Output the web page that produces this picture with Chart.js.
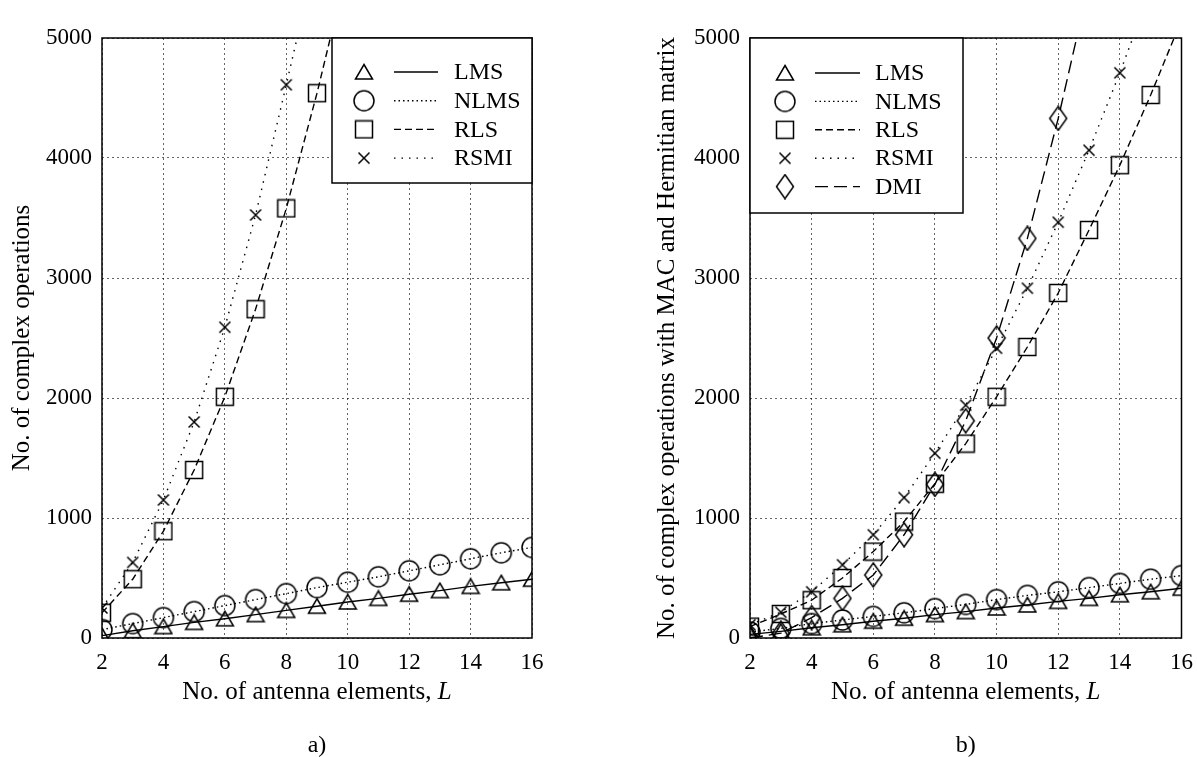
<!DOCTYPE html>
<html>
<head>
<meta charset="utf-8">
<script src="https://cdn.jsdelivr.net/npm/chart.js@4/dist/chart.umd.min.js"></script>
<style>
  html, body { margin: 0; background: #fff; overflow: hidden; width: 1197px; height: 757px; }
  #wrapA { position: absolute; left: 0; top: 0; }
  #wrapB { position: absolute; left: 640px; top: 0; }
</style>
</head>
<body>
<div id="wrapA"><canvas id="chartA" width="560" height="757"></canvas></div>
<div id="wrapB"><canvas id="chartB" width="564" height="757"></canvas></div>
<script>
// Number of antenna elements
const L = [2, 3, 4, 5, 6, 7, 8, 9, 10, 11, 12, 13, 14, 15, 16];
const xTicks = [2, 4, 6, 8, 10, 12, 14, 16];
const yTicks = [0, 1000, 2000, 3000, 4000, 5000];

// a) complex operations
const lmsA  = [20, 60, 95, 130, 160, 195, 230, 265, 300, 330, 365, 395, 430, 460, 490];
const nlmsA = [70, 120, 170, 220, 270, 320, 370, 420, 465, 510, 560, 610, 660, 710, 755];
const rlsA  = [210, 490, 890, 1400, 2010, 2740, 3580, 4540, 5600];
const rsmiA = [250, 630, 1150, 1800, 2590, 3525, 4610, 5720];

// b) complex operations with MAC and Hermitian matrix
const lmsB  = [30, 55, 85, 110, 140, 165, 195, 220, 250, 275, 305, 330, 360, 385, 415];
const nlmsB = [50, 80, 120, 150, 180, 210, 245, 280, 320, 355, 385, 420, 455, 490, 520];
const rlsB  = [95, 200, 315, 500, 720, 970, 1285, 1620, 2010, 2425, 2875, 3400, 3940, 4525, 5150];
const rsmiB = [110, 215, 385, 610, 860, 1170, 1540, 1940, 2415, 2915, 3465, 4065, 4710, 5400];
const dmiB  = [0, 40, 170, 330, 525, 860, 1280, 1810, 2500, 3330, 4330, 5450];

Chart.defaults.font.family = '"Liberation Serif", "Times New Roman", serif';
Chart.defaults.color = '#000';

// hollow marker glyphs
function marker(w, h, draw) {
    const c = document.createElement('canvas');
    c.width = w; c.height = h;
    const g = c.getContext('2d');
    g.strokeStyle = '#000';
    g.lineWidth = 1.5;
    g.beginPath();
    draw(g);
    g.stroke();
    return c;
}
const triangle = marker(20, 18, g => { g.moveTo(10, 1.5); g.lineTo(18.5, 16); g.lineTo(1.5, 16); g.closePath(); });
const circle = marker(24, 24, g => { g.arc(12, 12, 10, 0, Math.PI * 2); });
const square = marker(20, 20, g => { g.rect(1.5, 1.5, 17, 17); });
const cross = marker(14, 14, g => { g.moveTo(1.5, 1.5); g.lineTo(12.5, 12.5); g.moveTo(12.5, 1.5); g.lineTo(1.5, 12.5); });
const diamond = marker(20, 26, g => { g.moveTo(10, 1); g.lineTo(18.5, 13); g.lineTo(10, 25); g.lineTo(1.5, 13); g.closePath(); });

function series(label, vals, style, dash) {
    return {
        label: label,
        data: vals.map((v, i) => ({ x: L[i], y: v })),
        borderColor: '#000',
        borderWidth: 1.4,
        borderDash: dash,
        pointStyle: style,
        pointRadius: 10,
        tension: 0
    };
}

// frame, legend box, x title with italic L, and caption
const extras = {
    id: 'extras',
    afterDatasetsDraw(chart, args, o) {
        const { ctx, chartArea: a } = chart;
        ctx.save();
        ctx.strokeStyle = '#000';
        ctx.lineWidth = 1.5;
        ctx.strokeRect(a.left, a.top, a.right - a.left, a.bottom - a.top);

        const x0 = o.side === 'right' ? a.right - o.width : a.left;
        const y0 = a.top;
        ctx.fillStyle = '#fff';
        ctx.fillRect(x0, y0, o.width, o.height);
        ctx.strokeRect(x0, y0, o.width, o.height);
        ctx.font = '24px "Liberation Serif"';
        ctx.textBaseline = 'middle';
        chart.data.datasets.forEach((ds, i) => {
            const y = y0 + o.first + i * o.gap;
            const img = ds.pointStyle;
            ctx.drawImage(img, x0 + o.markX - img.width / 2, y - img.height / 2);
            ctx.lineWidth = 1.4;
            ctx.setLineDash(ds.borderDash || []);
            ctx.beginPath();
            ctx.moveTo(x0 + o.lineX1, y);
            ctx.lineTo(x0 + o.lineX2, y);
            ctx.stroke();
            ctx.setLineDash([]);
            ctx.fillStyle = '#000';
            ctx.fillText(ds.label, x0 + o.textX, y + 1);
        });

        // x axis title
        const cx = (a.left + a.right) / 2;
        const t1 = 'No. of antenna elements, ';
        ctx.font = '25px "Liberation Serif"';
        const w1 = ctx.measureText(t1).width;
        ctx.font = 'italic 25px "Liberation Serif"';
        const w2 = ctx.measureText('L').width;
        const tx = cx - (w1 + w2) / 2;
        ctx.textAlign = 'left';
        ctx.font = '25px "Liberation Serif"';
        ctx.fillText(t1, tx, o.titleY);
        ctx.font = 'italic 25px "Liberation Serif"';
        ctx.fillText('L', tx + w1, o.titleY);

        // caption
        ctx.textAlign = 'center';
        ctx.font = '24px "Liberation Serif"';
        ctx.fillText(o.caption, cx, o.captionY);
        ctx.restore();
    }
};

function makeChart(id, datasets, yTitle, yWidth, padRight, yTitlePad, legend) {
    return new Chart(document.getElementById(id), {
        type: 'line',
        data: { datasets: datasets },
        plugins: [extras],
        options: {
            responsive: false,
            animation: false,
            layout: { padding: { top: 38, right: padRight, left: 0, bottom: 0 } },
            scales: {
                x: {
                    type: 'linear',
                    min: 2, max: 16,
                    afterBuildTicks: s => { s.ticks = xTicks.map(v => ({ value: v })); },
                    afterFit: s => { s.height = 119; },
                    grid: { color: 'rgba(0,0,0,0.6)', lineWidth: 1, drawTicks: false },
                    border: { display: false, dash: [2, 3] },
                    ticks: { padding: 11, font: { size: 23 }, maxRotation: 0, callback: v => String(v) }
                },
                y: {
                    min: 0, max: 5000,
                    afterBuildTicks: s => { s.ticks = yTicks.map(v => ({ value: v })); },
                    afterFit: s => { s.width = yWidth; },
                    grid: { color: 'rgba(0,0,0,0.6)', lineWidth: 1, drawTicks: false },
                    border: { display: false, dash: [2, 3] },
                    ticks: { padding: 10, font: { size: 23 }, callback: v => String(v) },
                    title: { display: true, text: yTitle, font: { size: 25 }, padding: { top: yTitlePad, bottom: 0 } }
                }
            },
            plugins: {
                legend: { display: false },
                tooltip: { enabled: false },
                extras: legend
            }
        }
    });
}

makeChart('chartA', [
    series('LMS', lmsA, triangle, []),
    series('NLMS', nlmsA, circle, [1.5, 3]),
    series('RLS', rlsA, square, [7, 4]),
    series('RSMI', rsmiA, cross, [1.5, 6])
], 'No. of complex operations', 102, 28, 7,
    { side: 'right', width: 200, height: 145, first: 34, gap: 28.7, markX: 32, lineX1: 62, lineX2: 106, textX: 122,
      titleY: 692, caption: 'a)', captionY: 746 });

makeChart('chartB', [
    series('LMS', lmsB, triangle, []),
    series('NLMS', nlmsB, circle, [1.5, 3]),
    series('RLS', rlsB, square, [7, 4]),
    series('RSMI', rsmiB, cross, [1.5, 6]),
    series('DMI', dmiB, diamond, [13, 6])
], 'No. of complex operations with MAC and Hermitian matrix', 110, 22, 12,
    { side: 'left', width: 213, height: 175, first: 35, gap: 28.4, markX: 35, lineX1: 65, lineX2: 110, textX: 125,
      titleY: 692, caption: 'b)', captionY: 746 });
</script>
</body>
</html>
